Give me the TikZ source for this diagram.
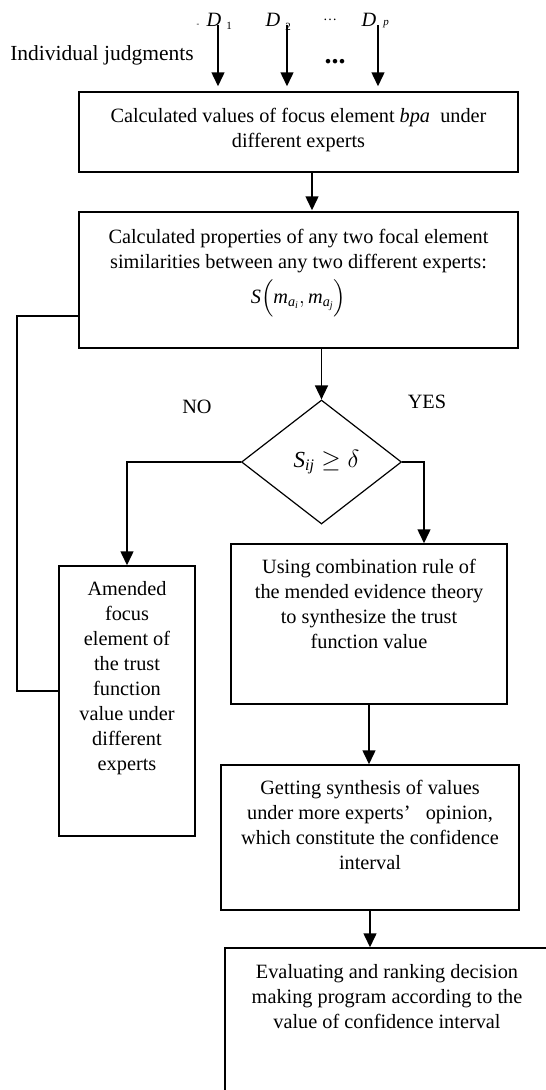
\documentclass[tikz,border=0pt]{standalone}
\usepackage{amsmath}
\usepackage{fontspec}
\setmainfont{Liberation Serif}
\usetikzlibrary{shapes.geometric,arrows.meta}
\newcommand\bxt[4]{\parbox[c][#2][t]{#1}{\centering\fontsize{20.3}{25}\selectfont\rule{0pt}{#3}#4}}
\begin{document}
\begin{tikzpicture}[x=1pt,y=-1pt,
  bx/.style={draw, rectangle, inner sep=0pt, line width=1.5pt},
  arr/.style={-{Triangle[length=14pt,width=13pt]}, line width=1.5pt},
  ln/.style={line width=1.5pt},
  lab/.style={inner sep=0pt, font=\fontsize{20.3}{22}\selectfont},
  sub/.style={inner sep=0pt, font=\fontsize{11}{11}\selectfont}]
\useasboundingbox (0,0) rectangle (546,1090);
\clip (0,0) rectangle (546,1090);
% top labels
\node[inner sep=0pt, font=\fontsize{21.5}{22}\selectfont] (ij) at (102,55) {Individual judgments};
\node[inner sep=0pt, font=\fontsize{8}{8}\selectfont] (dash) at (198,25) {-};
\node[lab] (D1) at (214,20) {\textit{D}};
\node[sub] (s1) at (229,26) {1};
\node[lab] (D2) at (273,20) {\textit{D}};
\node[sub] (s2) at (288,27) {2};
\node[inner sep=0pt, font=\fontsize{14}{14}\selectfont] (dd) at (330,20) {…};
\node[lab] (Dp) at (369,20) {\textit{D}};
\node[sub, font=\fontsize{11}{11}\selectfont\itshape] (sp) at (386,24) {p};
\node[inner sep=0pt, font=\fontsize{28}{28}\selectfont\bfseries] (bd) at (335,62) {...};
\coordinate (d1) at (218,25);
\coordinate (d2) at (287,25);
\coordinate (dp) at (378,25);
% boxes
\node[bx] (b1) at (298.5,132) {\bxt{439pt}{80pt}{30pt}{Calculated values of focus element \textit{bpa}\ \ under\\different experts}};
\node[bx] (b2) at (298.5,280) {\bxt{439pt}{136pt}{31pt}{Calculated properties of any two focal element\\similarities between any two different experts:\\[6pt]
$\textit{S}\Bigl(\textit{m}_{\textit{a}_{\textit{i}}},\textit{m}_{\textit{a}_{\textit{j}}}\Bigr)$}};
\node[draw, diamond, line width=1.2pt, inner sep=0pt, minimum width=160pt, minimum height=124pt, font=\fontsize{23}{24}\selectfont] (dia) at (321.5,462) {\hspace*{10pt}$\textit{S}_{\textit{ij}}\geq\delta$};
\node[lab] (no) at (197,407) {NO};
\node[lab] (yes) at (427,402) {YES};
\node[bx] (lb) at (127,701) {\bxt{136pt}{270pt}{29pt}{Amended\\focus\\element of\\the trust\\function\\value under\\different\\experts}};
\node[bx] (cb) at (369,624) {\bxt{276pt}{160pt}{29pt}{Using combination rule of\\the mended evidence theory\\to synthesize the trust\\function value}};
\node[bx] (gb) at (370,837.5) {\bxt{298pt}{145pt}{29pt}{Getting synthesis of values\\under more experts’\ \ \ opinion,\\which constitute the confidence\\interval}};
\node[bx] (eb) at (390,1029) {\bxt{330pt}{162pt}{30pt}{\hspace*{-6pt}Evaluating and ranking decision\\\hspace*{-6pt}making program according to the\\\hspace*{-6pt}value of confidence interval}};
% connectors
\draw[arr, shorten >=5pt] (d1) -- (d1 |- b1.north);
\draw[arr, shorten >=5pt] (d2) -- (d2 |- b1.north);
\draw[arr, shorten >=5pt] (dp) -- (dp |- b1.north);
\coordinate (a1) at (312,172);
\draw[arr, shorten >=1pt] (a1) -- (a1 |- b2.north);
\draw[arr] (dia.north |- b2.south) -- (dia.north);
\draw[arr] (dia.west) -| (lb.north);
\coordinate (yc) at (424,462);
\draw[arr] (dia.east) -- (yc) -- (yc |- cb.north);
\draw[arr] (cb.south) -- (cb.south |- gb.north);
\draw[arr] (gb.south) -- (gb.south |- eb.north);
\coordinate (l1) at (17,316);
\coordinate (l2) at (17,691);
\draw[ln] (b2.west |- l1) -- (l1) -- (l2) -- (lb.west |- l2);
\end{tikzpicture}
\end{document}
